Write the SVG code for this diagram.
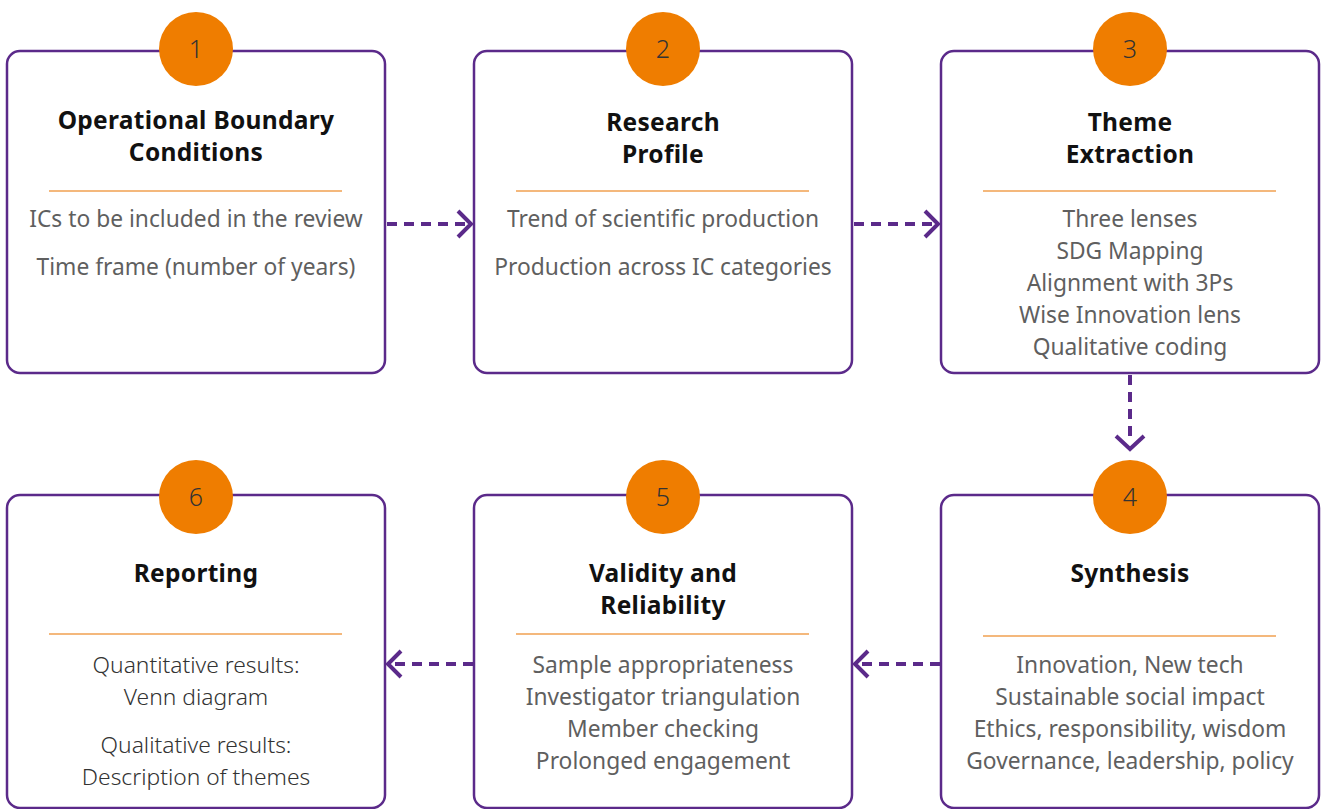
<svg xmlns="http://www.w3.org/2000/svg" width="1324" height="809" viewBox="0 0 1324 809">
<style>
.box{fill:#fff;stroke:#5b2a8a;stroke-width:2.5}
.circ{fill:#ef7d00}
.num{font-family:"Noto Sans",sans-serif;font-weight:300;font-size:25px;fill:#333;text-anchor:middle}
.title{font-family:"Noto Sans",sans-serif;font-weight:700;font-size:24.5px;letter-spacing:0.3px;fill:#111;text-anchor:middle}
.body{font-family:"Noto Sans",sans-serif;font-size:22.8px;fill:#5f5f5f;text-anchor:middle}
.light{font-weight:300;fill:#333}
.rule{stroke:#f0a050;stroke-width:1.6}
.conn{fill:none;stroke:#5b2a8a;stroke-width:4;stroke-dasharray:10 7}
.head{fill:none;stroke:#5b2a8a;stroke-width:4}
</style>
<rect width="1324" height="809" fill="#fff"/>
<g id="connectors">
<path class="conn" d="M387 224H466"/><path class="head" d="M458 211L471 224L458 237"/>
<path class="conn" d="M854 224H934"/><path class="head" d="M925 211L938 224L925 237"/>
<path class="conn" d="M1130 375V443"/><path class="head" d="M1116 436L1130 449L1144 436"/>
<path class="conn" d="M940 664H860"/><path class="head" d="M868 651L855 664L868 677"/>
<path class="conn" d="M473 664H393"/><path class="head" d="M401 651L388 664L401 677"/>
</g>
<g id="node1">
<rect class="box" x="7" y="51" width="378" height="322" rx="13"/>
<circle class="circ" cx="196" cy="49" r="37"/>
<text class="num" x="196" y="58">1</text>
<text class="title" x="196" y="129">Operational Boundary</text>
<text class="title" x="196" y="161">Conditions</text>
<line class="rule" x1="49" y1="191" x2="342" y2="191"/>
<text class="body" x="196" y="227">ICs to be included in the review</text>
<text class="body" x="196" y="275">Time frame (number of years)</text>
</g>
<g id="node2">
<rect class="box" x="474" y="51" width="378" height="322" rx="13"/>
<circle class="circ" cx="663" cy="49" r="37"/>
<text class="num" x="663" y="58">2</text>
<text class="title" x="663" y="131">Research</text>
<text class="title" x="663" y="163">Profile</text>
<line class="rule" x1="516" y1="191" x2="809" y2="191"/>
<text class="body" x="663" y="227">Trend of scientific production</text>
<text class="body" x="663" y="275">Production across IC categories</text>
</g>
<g id="node3">
<rect class="box" x="941" y="51" width="378" height="322" rx="13"/>
<circle class="circ" cx="1130" cy="49" r="37"/>
<text class="num" x="1130" y="58">3</text>
<text class="title" x="1130" y="131">Theme</text>
<text class="title" x="1130" y="163">Extraction</text>
<line class="rule" x1="983" y1="191" x2="1276" y2="191"/>
<text class="body" x="1130" y="227">Three lenses</text>
<text class="body" x="1130" y="259">SDG Mapping</text>
<text class="body" x="1130" y="291">Alignment with 3Ps</text>
<text class="body" x="1130" y="323">Wise Innovation lens</text>
<text class="body" x="1130" y="355">Qualitative coding</text>
</g>
<g id="node4">
<rect class="box" x="941" y="495" width="378" height="313" rx="13"/>
<circle class="circ" cx="1130" cy="497" r="37"/>
<text class="num" x="1130" y="506">4</text>
<text class="title" x="1130" y="582">Synthesis</text>
<line class="rule" x1="983" y1="636" x2="1276" y2="636"/>
<text class="body" x="1130" y="673">Innovation, New tech</text>
<text class="body" x="1130" y="705">Sustainable social impact</text>
<text class="body" x="1130" y="737">Ethics, responsibility, wisdom</text>
<text class="body" x="1130" y="769">Governance, leadership, policy</text>
</g>
<g id="node5">
<rect class="box" x="474" y="495" width="378" height="313" rx="13"/>
<circle class="circ" cx="663" cy="497" r="37"/>
<text class="num" x="663" y="506">5</text>
<text class="title" x="663" y="582">Validity and</text>
<text class="title" x="663" y="614">Reliability</text>
<line class="rule" x1="516" y1="634" x2="809" y2="634"/>
<text class="body" x="663" y="673">Sample appropriateness</text>
<text class="body" x="663" y="705">Investigator triangulation</text>
<text class="body" x="663" y="737">Member checking</text>
<text class="body" x="663" y="769">Prolonged engagement</text>
</g>
<g id="node6">
<rect class="box" x="7" y="495" width="378" height="313" rx="13"/>
<circle class="circ" cx="196" cy="497" r="37"/>
<text class="num" x="196" y="506">6</text>
<text class="title" x="196" y="582">Reporting</text>
<line class="rule" x1="49" y1="634" x2="342" y2="634"/>
<text class="body light" x="196" y="673">Quantitative results:</text>
<text class="body light" x="196" y="705">Venn diagram</text>
<text class="body light" x="196" y="753">Qualitative results:</text>
<text class="body light" x="196" y="785">Description of themes</text>
</g>
</svg>
